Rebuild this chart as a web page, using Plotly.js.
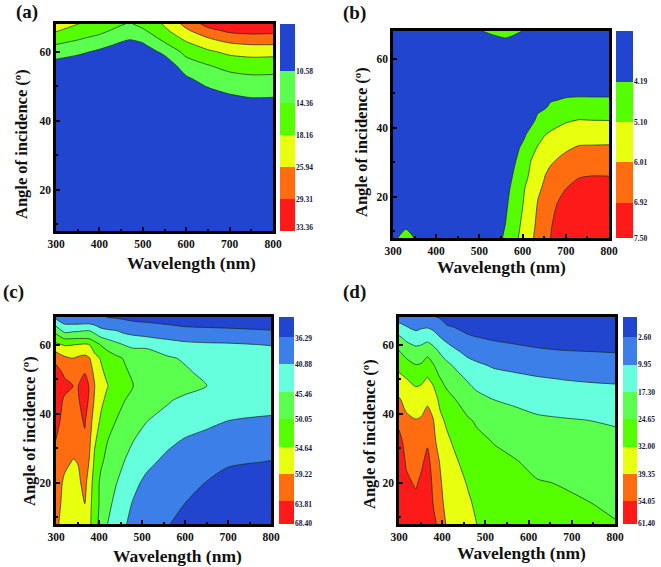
<!DOCTYPE html>
<html>
<head>
<meta charset="utf-8">
<script src="https://cdn.plot.ly/plotly-3.0.1.min.js"></script>
<style>html,body{margin:0;padding:0;background:#fff}</style>
</head>
<body>
<div id="chart" style="width:661px;height:567px"></div>
<script>
// colour bar labels double as the contour levels (the last one is only the end of the bar)
const labels_a = [10.58, 14.36, 18.16, 25.94, 29.31, 33.36];
const labels_b = [4.19, 5.10, 6.01, 6.92, 7.50];
const labels_c = [36.29, 40.88, 45.46, 50.05, 54.64, 59.22, 63.81, 68.40];
const labels_d = [2.60, 9.95, 17.30, 24.65, 32.00, 39.35, 54.05, 61.40];

const colors_short = ['#2145cf', '#5bff4d', '#55ff00', '#e8ff10', '#ff6d10', '#ff1a1a'];
const colors_b = ['#2145cf', '#55ff00', '#e8ff10', '#ff6d10', '#ff1a1a'];
const colors_long = ['#2145cf', '#3d7fe8', '#66ffdd', '#5bff4d', '#55ff00', '#e8ff10', '#ff6d10', '#ff1a1a'];

// z values are one row per wavelength, one entry per angle
const wave_a = [300, 350, 400, 450, 470, 500, 550, 600, 650, 700, 750, 800];
const angle_a = [8, 30, 44, 48, 52, 56, 60, 62, 64, 66, 68];
const z_a = [
  [4, 5, 6, 6.5, 7.5, 9, 12.5, 14.3, 16.3, 18.6, 21],
  [4, 5, 5.8, 6.3, 7.2, 8.2, 11.4, 13.2, 14.9, 16.6, 18.3],
  [4, 5, 5.7, 6.2, 7, 7.9, 10, 11.7, 13.5, 15.3, 17.2],
  [4, 5, 5.5, 6, 6.6, 7.2, 8.5, 10, 11.5, 13.1, 14.7],
  [4, 5, 5.5, 6, 6.5, 7, 8.2, 9.5, 11, 12.5, 14],
  [4, 5, 5.5, 6, 6.5, 7.2, 8.6, 10.1, 11.9, 13.7, 15.5],
  [4, 5, 5.8, 6.3, 7, 8.2, 11.5, 13.7, 15.6, 17.3, 19],
  [4, 5, 6.5, 7.5, 9.9, 12.6, 15.5, 17.3, 20.3, 24.5, 27],
  [4, 5, 7.5, 9.6, 12, 14.2, 17.6, 21.2, 25.9, 28.2, 30.7],
  [4, 5, 8, 10.8, 13, 15.6, 20, 24.6, 27.6, 30, 33.5],
  [4, 5, 9, 11.4, 13.6, 16, 21.2, 25.9, 28.1, 30.5, 34],
  [4, 5, 9, 11.3, 13.5, 16, 20.8, 25.9, 28, 30.3, 33.9]
];

const wave_b = [300, 330, 350, 500, 530, 560, 575, 590, 605, 620, 635, 650, 665, 680, 700, 730, 760, 800];
const angle_b = [8, 11, 18, 22, 26, 30, 34, 38, 42, 46, 50, 60, 64, 66, 68];
const z_b = [
  [4.1, 3.9, 3.7, 3.6, 3.6, 3.6, 3.6, 3.6, 3.6, 3.6, 3.6, 3.6, 3.6, 3.6, 3.6],
  [4.35, 4.16, 3.7, 3.6, 3.6, 3.6, 3.6, 3.6, 3.6, 3.6, 3.6, 3.6, 3.6, 3.6, 3.6],
  [4.18, 3.9, 3.7, 3.6, 3.6, 3.6, 3.6, 3.6, 3.6, 3.6, 3.6, 3.6, 3.6, 3.6, 3.6],
  [3.7, 3.7, 3.7, 3.7, 3.7, 3.7, 3.7, 3.7, 3.7, 3.7, 3.7, 3.7, 3.7, 3.85, 4.15],
  [3.9, 3.85, 3.8, 3.75, 3.75, 3.75, 3.75, 3.75, 3.75, 3.75, 3.75, 3.75, 3.8, 4.05, 4.35],
  [4.27, 4.21, 4.05, 4, 3.95, 3.9, 3.85, 3.8, 3.8, 3.8, 3.8, 3.8, 3.95, 4.2, 4.44],
  [4.69, 4.6, 4.4, 4.28, 4.16, 4.05, 3.95, 3.9, 3.85, 3.8, 3.8, 3.8, 3.9, 4.12, 4.38],
  [5.1, 5, 4.74, 4.59, 4.44, 4.29, 4.15, 4.05, 3.95, 3.9, 3.85, 3.8, 3.8, 3.95, 4.28],
  [5.49, 5.41, 5.22, 5.12, 4.89, 4.64, 4.38, 4.13, 4, 3.95, 3.9, 3.8, 3.8, 3.85, 4.15],
  [5.88, 5.78, 5.55, 5.41, 5.28, 5.15, 4.84, 4.43, 4.03, 3.95, 3.9, 3.8, 3.8, 3.8, 3.9],
  [6.27, 6.2, 6.05, 5.89, 5.65, 5.41, 5.17, 4.78, 4.33, 4.05, 3.98, 3.8, 3.8, 3.8, 3.8],
  [6.58, 6.48, 6.27, 6.13, 5.97, 5.67, 5.37, 5.06, 4.57, 4.1, 3.98, 3.8, 3.8, 3.8, 3.8],
  [6.92, 6.83, 6.6, 6.45, 6.3, 5.92, 5.57, 5.21, 4.77, 4.29, 4, 3.8, 3.8, 3.8, 3.8],
  [7.4, 7.25, 6.92, 6.65, 6.38, 6.1, 5.73, 5.33, 4.89, 4.37, 4, 3.8, 3.8, 3.8, 3.8],
  [8, 7.6, 7.2, 6.93, 6.6, 6.27, 5.91, 5.47, 5.03, 4.47, 4.05, 3.8, 3.8, 3.8, 3.8],
  [8.2, 8, 7.5, 7.2, 6.83, 6.47, 6.1, 5.64, 5.14, 4.57, 4.05, 3.8, 3.8, 3.8, 3.8],
  [8.2, 8, 7.6, 7.3, 6.92, 6.5, 6.12, 5.64, 5.12, 4.55, 4.05, 3.8, 3.8, 3.8, 3.8],
  [8.2, 8, 7.6, 7.3, 6.91, 6.51, 6.14, 5.63, 5.11, 4.54, 4.05, 3.8, 3.8, 3.8, 3.8]
];

const wave_c = [300, 320, 340, 352, 367, 378, 390, 405, 420, 440, 460, 480, 510, 560, 600, 650, 700, 800];
const angle_c = [8, 14, 20, 26, 32, 38, 44, 48, 52, 56, 60, 62, 64, 66, 68];
const z_c = [
  [60, 60.5, 61.5, 62.5, 63.7, 65, 66, 66.5, 65.5, 62.5, 55.5, 52, 48.4, 44, 39.5],
  [57.5, 58.2, 58.4, 60.2, 62, 62.5, 63.2, 65, 63, 60.1, 54.2, 49.2, 44.1, 40.7, 38.3],
  [56.5, 57, 57.2, 58.9, 61, 62, 62.5, 63.8, 62.5, 59.3, 54.5, 49.4, 44.8, 40.7, 38.5],
  [57, 57.5, 58.5, 59.4, 61.5, 62.7, 63.5, 63.8, 62.6, 60, 54.8, 49.4, 45, 40.7, 38.8],
  [58.2, 59.3, 60.5, 62, 63, 64.3, 65.8, 67, 63.5, 60.5, 55.2, 49.4, 45.5, 40.9, 39],
  [55.6, 55.9, 56.9, 58.8, 60, 60.7, 63, 63.2, 61.5, 59.5, 54.6, 49.2, 45.46, 40.88, 38.5],
  [51.8, 52.3, 52.5, 53.6, 55.2, 57.5, 58.6, 59.3, 58, 56.3, 51.9, 47.7, 44, 40.2, 38],
  [48.3, 48.9, 49, 50.6, 52.2, 53.7, 55.8, 56.9, 55.4, 54.2, 49.7, 45.6, 41.8, 39.4, 37],
  [45.46, 46.6, 47.3, 48.9, 50.05, 52.2, 53.2, 54.8, 53.5, 52.5, 48.1, 44.6, 41.4, 38.7, 36.1],
  [43.3, 44.3, 45.6, 47.1, 48.7, 50, 52.1, 53, 52, 51, 46.5, 43.5, 41, 38, 35.9],
  [41.2, 42.4, 43.9, 45.3, 47, 48.8, 50.1, 51.4, 50.6, 49.7, 45.2, 42.3, 39.9, 37.5, 35.5],
  [39.7, 40.5, 42.1, 44, 45.46, 47.4, 49.2, 50.05, 49.3, 49, 44.2, 41.7, 39.4, 37.1, 35],
  [38.2, 39.1, 39.8, 42.1, 44, 45.6, 47.8, 49, 48.3, 47.9, 44.5, 41.2, 39, 36.8, 34.5],
  [36.5, 37.3, 38.3, 39.6, 41.9, 44, 45.9, 47.9, 47, 46, 42.8, 40.2, 38.2, 36.1, 34],
  [35, 36.29, 37.4, 38.7, 40.4, 43.2, 44.6, 46.9, 46, 45, 41.7, 39.8, 37.6, 35.4, 33.4],
  [33.6, 34.5, 36.2, 37.8, 39.4, 42, 43.5, 45.5, 44.5, 44, 41.4, 39.5, 37.3, 35.2, 33.2],
  [32.5, 33.4, 34.5, 36.9, 38.7, 40.9, 43, 44.8, 44, 43.4, 41.3, 39.3, 37.1, 35, 33],
  [31, 32, 34, 36.15, 38.2, 40.35, 42.5, 44.2, 43.4, 42.8, 40.7, 38.6, 36.5, 34.5, 33]
];

const wave_d = [300, 317, 339, 352, 366, 379, 395, 410, 430, 460, 480, 520, 565, 620, 680, 740, 800];
const angle_d = [8, 14, 20, 26, 32, 38, 44, 50, 54, 58, 62, 66, 68];
const z_d = [
  [66, 64, 62, 60, 57, 49, 40.8, 34.2, 29.7, 25.1, 18.5, 10.6, 6.5],
  [62, 59, 55.6, 52, 47.1, 42.1, 37.2, 32.2, 27.4, 21.9, 15.5, 8.8, 5.3],
  [60, 56.2, 52.1, 48.1, 44, 39.9, 35.5, 30, 24.9, 19.7, 13.6, 6.4, 4],
  [62, 59, 55.8, 51.1, 46, 41, 36, 30.6, 25.5, 20, 14.4, 7.5, 4],
  [65, 62, 59.6, 56.8, 51.4, 45, 38.1, 32.6, 28.8, 21.9, 15.2, 7.7, 4.5],
  [57.5, 53.5, 50.2, 46.8, 43.5, 40.2, 35.7, 30.4, 25.3, 19.7, 13.9, 6.3, 3],
  [45.8, 43, 41, 39, 36, 33.6, 30.4, 25, 21, 16.6, 10.2, 4.8, 2],
  [38.9, 37.5, 36.5, 35.5, 33.4, 31, 27, 22.5, 19, 13.7, 8, 2.2, 0.5],
  [36.5, 35.4, 34.3, 33, 30.7, 27.8, 24.8, 20, 16.3, 11, 6.1, 1.2, -0.3],
  [33.7, 32.8, 31.5, 29.2, 27, 25.3, 21.5, 16.5, 12.3, 8, 3.6, -0.5, -2],
  [32, 31, 29, 27.4, 25.9, 24, 19.4, 14.5, 11, 7, 2.8, -1, -2.5],
  [29.5, 28.5, 27.2, 26, 24.4, 20.8, 17.3, 12.5, 9.2, 5.4, 1.8, -1.5, -3],
  [28.2, 27, 26, 25.2, 22.6, 19.8, 16.2, 11.5, 8.4, 4.6, 1, -2, -3.5],
  [27, 25.9, 25, 23, 21, 18.3, 14.9, 10.6, 7.2, 3.6, 0, -3, -4.5],
  [26.6, 25.5, 24.35, 21.9, 19.6, 17.8, 13.9, 9.8, 6.4, 2.9, -0.6, -3.5, -5],
  [26.5, 24.8, 22.9, 21, 19.1, 17.3, 13.4, 9.3, 6, 2.6, -0.8, -4, -5.5],
  [25, 23.5, 21.9, 20.3, 18.7, 16.7, 13, 9, 5.6, 2.3, -1, -4, -5.5]
];

const W = 661, H = 567;
const serif = 'Liberation Serif, Times New Roman, serif';

// plot box, colour bar and text placement in page pixels
const panels = [
  { name: 'a', wave: wave_a, angle: angle_a, z: z_a, labels: labels_a, colors: colors_short,
    box: [56, 273, 24, 231], bar: [280, 295], barTop: -1.47, barPos: [0, 1, 2, 3, 4, 5], labelPos: [0, 1, 2, 3, 4, 4.88],
    tag: [27, 12], xt: [191, 263], yt: [21, 144] },
  { name: 'b', wave: wave_b, angle: angle_b, z: z_b, labels: labels_b, colors: colors_b,
    box: [393, 609, 31, 238], bar: [616, 633], barTop: -1.26, barPos: [0, 1, 2, 3, 3.88], labelPos: [0, 1, 2, 3, 3.88],
    tag: [354, 13], xt: [501, 267], yt: [361, 142] },
  { name: 'c', wave: wave_c, angle: angle_c, z: z_c, labels: labels_c, colors: colors_long,
    box: [56, 271, 317, 524], bar: [279, 294], barTop: -0.73, barPos: [0, 1, 2, 3, 4, 5, 6, 6.83], labelPos: [0.05, 1, 2.1, 3, 4.05, 5, 6.1, 6.8],
    tag: [13, 292], xt: [177, 556], yt: [29, 431] },
  { name: 'd', wave: wave_d, angle: angle_d, z: z_d, labels: labels_d, colors: colors_long,
    box: [399, 615, 317, 524], bar: [623, 637], barTop: -0.75, barPos: [0, 1, 2, 3, 4, 5, 6, 6.83], labelPos: [0, 1, 2, 3, 4, 5, 6, 6.8],
    tag: [354, 292], xt: [521, 553], yt: [369, 434] }
];

const px = x => x / W;
const py = y => 1 - y / H;

// Plotly only takes evenly spaced contour levels, so values go through a band scale
function toBand(v, levels) {
  let i = 0;
  while (i < levels.length - 2 && v > levels[i + 1]) i++;
  return i + (v - levels[i]) / (levels[i + 1] - levels[i]);
}

const stepScale = colors => colors.map((c, i) => [i / (colors.length - 1), c]);

const traces = [];
const layout = {
  width: W,
  height: H,
  margin: { l: 0, r: 0, t: 0, b: 0 },
  paper_bgcolor: '#fff',
  plot_bgcolor: '#fff',
  showlegend: false,
  annotations: []
};

function note(text, x, y, size, angle) {
  layout.annotations.push({
    text: text, xref: 'paper', yref: 'paper', x: px(x), y: py(y),
    xanchor: 'center', yanchor: 'middle', showarrow: false, textangle: angle || 0,
    font: { family: serif, size: size, color: '#111', weight: 'bold' }
  });
}

panels.forEach((p, i) => {
  const n1 = i * 2 + 1, n2 = i * 2 + 2;
  const colorscale = stepScale(p.colors);

  traces.push({
    type: 'contour',
    x: p.wave, y: p.angle, transpose: true,
    z: p.z.map(col => col.map(v => toBand(v, p.labels))),
    xaxis: 'x' + n1, yaxis: 'y' + n1,
    autocontour: false,
    contours: { start: 0, end: p.labels.length - 2, size: 1, coloring: 'fill', showlines: true },
    line: { color: '#14261e', width: 0.7, smoothing: 0.7 },
    colorscale: colorscale,
    showscale: false,
    hoverinfo: 'skip'
  });

  // colour bar: one heatmap cell per band on its own axis
  traces.push({
    type: 'heatmap',
    x: [0, 1],
    y: [p.barTop].concat(p.barPos),
    z: p.colors.map((c, k) => [k]),
    zmin: 0, zmax: p.colors.length - 1,
    xaxis: 'x' + n2, yaxis: 'y' + n2,
    colorscale: colorscale,
    showscale: false,
    hoverinfo: 'skip'
  });

  const tickfont = { family: serif, size: 11.5, color: '#111', weight: 'bold' };
  layout['xaxis' + n1] = {
    domain: [px(p.box[0]), px(p.box[1])], range: [300, 800], anchor: 'y' + n1,
    dtick: 100, tick0: 300, ticks: 'inside', ticklen: 4, tickwidth: 2, tickcolor: '#000',
    minor: { dtick: 50, ticks: 'inside', ticklen: 2, tickwidth: 1.5, tickcolor: '#000' },
    showline: true, mirror: true, linecolor: '#000', linewidth: 2.5,
    showgrid: false, zeroline: false, tickfont: tickfont
  };
  layout['yaxis' + n1] = {
    domain: [py(p.box[3]), py(p.box[2])], range: [8, 68], anchor: 'x' + n1,
    dtick: 20, tick0: 0, ticks: 'inside', ticklen: 4, tickwidth: 2, tickcolor: '#000',
    minor: { dtick: 10, ticks: 'inside', ticklen: 2, tickwidth: 1.5, tickcolor: '#000' },
    showline: true, mirror: true, linecolor: '#000', linewidth: 2.5,
    showgrid: false, zeroline: false, tickfont: tickfont
  };
  layout['xaxis' + n2] = {
    domain: [px(p.bar[0]), px(p.bar[1])], range: [0, 1], anchor: 'y' + n2,
    visible: false, fixedrange: true
  };
  layout['yaxis' + n2] = {
    domain: [py(p.box[3]), py(p.box[2])], range: [p.barPos[p.barPos.length - 1], p.barTop],
    anchor: 'x' + n2, side: 'right', tickmode: 'array',
    tickvals: p.labelPos, ticktext: p.labels.map(v => v.toFixed(2)),
    ticks: '', showline: false, showgrid: false, zeroline: false, fixedrange: true,
    tickfont: { family: serif, size: 7.5, color: '#14143c', weight: 'bold' }
  };

  note('(' + p.name + ')', p.tag[0], p.tag[1], 19);
  note('Wavelength (nm)', p.xt[0], p.xt[1], 17.5);
  note('Angle of incidence (º)', p.yt[0], p.yt[1], 16.5, -90);
});

Plotly.newPlot('chart', traces, layout, { displayModeBar: false, responsive: false });
</script>
</body>
</html>
